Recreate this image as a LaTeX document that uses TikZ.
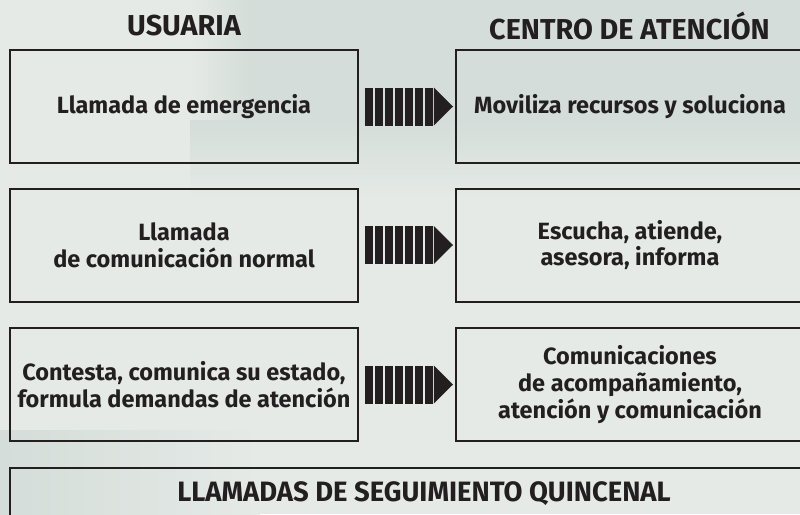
\documentclass[tikz,border=0pt]{standalone}
\usepackage{fontspec}
\setmainfont{Fira Sans}
\usetikzlibrary{calc}
\definecolor{bg}{RGB}{229,234,231}
\definecolor{bgdark}{RGB}{212,221,217}
\definecolor{ink}{RGB}{35,31,32}
\tikzset{
  box/.style={draw=ink, line width=2pt, minimum width=348pt, minimum height=113pt,
    inner sep=0pt, align=center, font=\fontsize{23.5}{26.8}\selectfont\bfseries, text=ink},
  head/.style={font=\fontsize{28.8}{32}\selectfont\bfseries, text=ink, inner sep=0pt},
  barfill/.style={fill=ink, draw=none}
}
\newcommand{\bararrow}[1]{%
  \begin{scope}[shift={(#1.east)}]
    \foreach \k in {0,...,6} {
      \fill[barfill] ({6+10*\k},-19) rectangle ({14.3+10*\k},19);
    }
    \fill[barfill] (74.8,-19) -- (94,0) -- (74.8,19) -- cycle;
  \end{scope}}
\begin{document}
\begin{tikzpicture}[x=1pt,y=-1pt]
\clip (0,0) rectangle (800,514);
\fill[bg] (0,0) rectangle (800,514);
\shade[left color=bg, right color=bgdark] (190,0) rectangle (250,170);
\fill[bgdark] (249,0) rectangle (800,170);
\shade[top color=bgdark, bottom color=bg] (190,120) rectangle (800,200);
\shade[left color=bgdark, right color=bg] (0,430) rectangle (260,514);

\node[head] (h1) at (184,26) {USUARIA};
\node[head] (h2) at (629.5,26) {CENTRO DE ATENCIÓN};

\node[box] (a1) at (184,106.5) {Llamada de emergencia};
\node[box] (b1) at (630,106.5) {Moviliza recursos y soluciona};
\node[box] (a2) at (184,245) {Llamada\\de comunicación normal};
\node[box] (b2) at (630,245) {Escucha, atiende,\\asesora, informa};
\node[box] (a3) at (184,384.5) {Contesta, comunica su estado,\\formula demandas de atención};
\node[box] (b3) at (630,384.5) {Comunicaciones\\de acompañamiento,\\atención y comunicación};

\node[draw=ink, line width=2pt, minimum width=832pt, minimum height=100pt, inner sep=0pt,
  anchor=north west] (c) at (9,467) {};
\node[head, font=\fontsize{28}{32}\selectfont\bfseries] (ct) at (424,494) {\scalebox{0.98}[1]{LLAMADAS DE SEGUIMIENTO QUINCENAL}};

\bararrow{a1}
\bararrow{a2}
\bararrow{a3}
\end{tikzpicture}
\end{document}
